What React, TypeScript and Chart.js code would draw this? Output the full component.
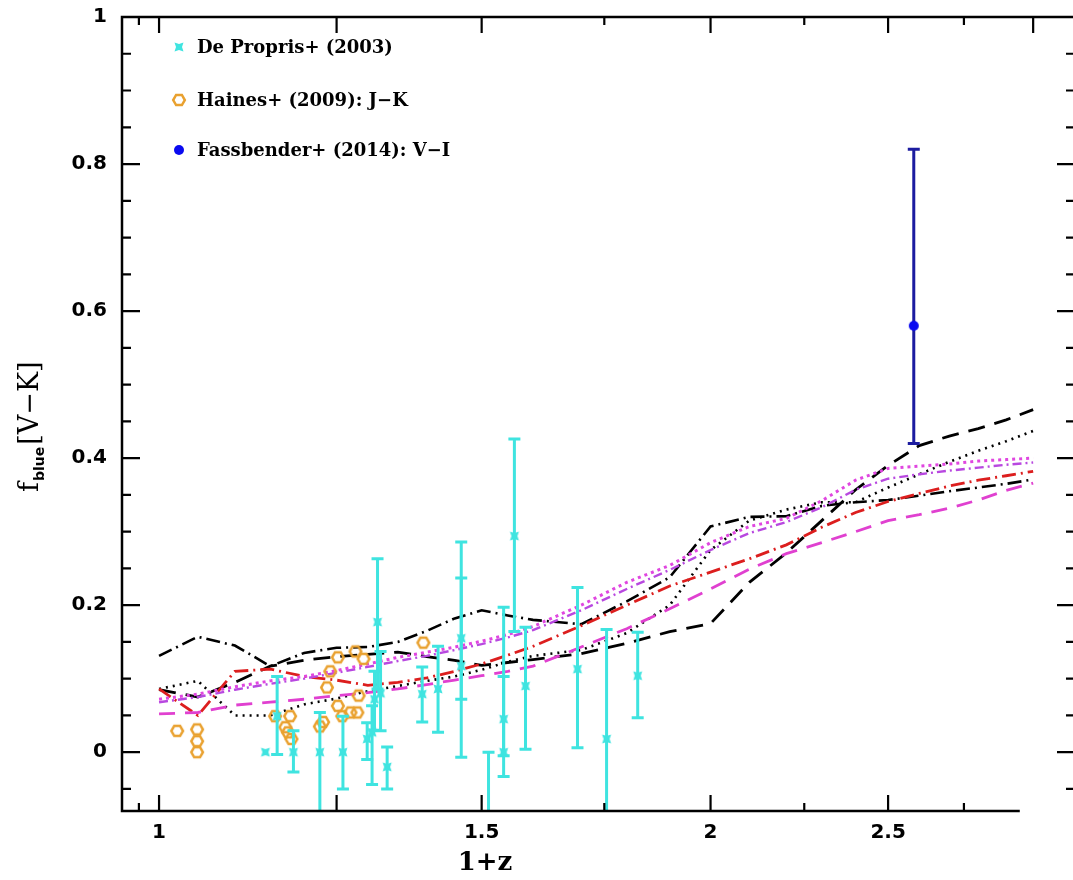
import React, { useEffect, useRef } from "react";
import { Chart, registerables } from "chart.js";

Chart.register(...registerables);

// ---------- data ----------
const MODEL_X = [1.0, 1.05, 1.1, 1.15, 1.2, 1.25, 1.3, 1.35, 1.4, 1.45, 1.5, 1.55, 1.6, 1.7, 1.8, 1.9, 2.0, 2.1, 2.2, 2.3, 2.4, 2.5, 2.6, 2.7, 2.8, 2.9, 3.0];
const BLACK_DASHDOT = [0.131, 0.157, 0.145, 0.117, 0.135, 0.142, 0.143, 0.15, 0.165, 0.182, 0.193, 0.186, 0.18, 0.174, 0.205, 0.238, 0.307, 0.32, 0.321, 0.335, 0.34, 0.343, 0.349, 0.355, 0.36, 0.365, 0.371];
const BLACK_DASHED = [0.085, 0.075, 0.095, 0.117, 0.125, 0.13, 0.133, 0.136, 0.13, 0.125, 0.118, 0.122, 0.126, 0.134, 0.148, 0.164, 0.175, 0.231, 0.271, 0.315, 0.357, 0.39, 0.417, 0.43, 0.44, 0.452, 0.466];
const BLACK_DOTTED = [0.086, 0.097, 0.05, 0.05, 0.065, 0.073, 0.083, 0.09, 0.097, 0.103, 0.112, 0.123, 0.131, 0.139, 0.162, 0.2, 0.275, 0.315, 0.33, 0.34, 0.34, 0.36, 0.378, 0.395, 0.41, 0.423, 0.437];
const RED_DASHDOT = [0.086, 0.05, 0.11, 0.113, 0.103, 0.098, 0.091, 0.095, 0.101, 0.11, 0.12, 0.132, 0.144, 0.172, 0.2, 0.226, 0.245, 0.263, 0.282, 0.306, 0.326, 0.341, 0.352, 0.362, 0.37, 0.376, 0.382];
const MAGENTA_DASHED = [0.052, 0.054, 0.064, 0.068, 0.072, 0.077, 0.081, 0.086, 0.092, 0.098, 0.104, 0.11, 0.117, 0.143, 0.168, 0.195, 0.222, 0.249, 0.27, 0.285, 0.3, 0.315, 0.323, 0.332, 0.343, 0.356, 0.366];
const MAGENTA_DOTTED = [0.072, 0.079, 0.089, 0.097, 0.103, 0.111, 0.12, 0.129, 0.136, 0.143, 0.151, 0.16, 0.171, 0.2, 0.231, 0.254, 0.285, 0.307, 0.318, 0.342, 0.37, 0.386, 0.389, 0.392, 0.396, 0.398, 0.4];
const PURPLE_DASHDOT = [0.068, 0.075, 0.085, 0.093, 0.1, 0.108, 0.116, 0.124, 0.131, 0.139, 0.147, 0.156, 0.166, 0.193, 0.222, 0.248, 0.275, 0.298, 0.313, 0.333, 0.357, 0.372, 0.378, 0.383, 0.387, 0.391, 0.394];

const DP_X = [1.143, 1.16, 1.184, 1.224, 1.26, 1.299, 1.307, 1.311, 1.316, 1.321, 1.332, 1.392, 1.42, 1.462, 1.462, 1.513, 1.542, 1.542, 1.563, 1.585, 1.692, 1.755, 1.825];
const DP_Y = [0.0, 0.049, 0.0, 0.0, 0.0, 0.018, 0.027, 0.072, 0.177, 0.08, -0.02, 0.079, 0.086, 0.155, 0.117, -0.12, 0.045, 0.0, 0.294, 0.09, 0.113, 0.018, 0.104];
const DP_LO = [0.0, -0.003, -0.027, -0.1, -0.05, -0.01, -0.044, 0.03, 0.086, 0.029, -0.05, 0.041, 0.027, 0.072, -0.007, -0.25, -0.005, -0.033, 0.164, 0.004, 0.006, -0.15, 0.047];
const DP_HI = [0.0, 0.103, 0.029, 0.054, 0.049, 0.04, 0.063, 0.11, 0.263, 0.137, 0.007, 0.116, 0.144, 0.237, 0.286, 0.0, 0.103, 0.197, 0.426, 0.17, 0.224, 0.167, 0.163];

const HA_X = [1.023, 1.049, 1.049, 1.049, 1.157, 1.172, 1.176, 1.179, 1.181, 1.224, 1.229, 1.235, 1.24, 1.252, 1.252, 1.259, 1.272, 1.28, 1.283, 1.285, 1.293, 1.394];
const HA_Y = [0.029, 0.031, 0.015, 0.0, 0.049, 0.034, 0.027, 0.049, 0.018, 0.035, 0.041, 0.088, 0.11, 0.129, 0.063, 0.049, 0.054, 0.137, 0.054, 0.077, 0.127, 0.149];

const FA_X = [2.582];
const FA_Y = [0.58];
const FA_LO = [0.42];
const FA_HI = [0.82];

const X_LABEL_TICKS = [1, 1.5, 2, 2.5];
const X_MAJOR_TICKS = [1, 1.25, 1.5, 2, 2.5, 3];
const X_MINOR_TICKS = [0.975, 1.75, 2.25, 2.75];
const Y_LABEL_TICKS = [0, 0.2, 0.4, 0.6, 0.8, 1];
const Y_MINOR_TICKS = [-0.05, 0.05, 0.1, 0.15, 0.25, 0.3, 0.35, 0.45, 0.5, 0.55, 0.65, 0.7, 0.75, 0.85, 0.9, 0.95];
const BOTTOM_AXIS_END = 2.95;

const LEGEND_LABELS = ["De Propris+ (2003)", "Haines+ (2009): J\u2212K", "Fassbender+ (2014): V\u2212I"];

// ---------- styles ----------
const CYAN = "#3fe4e0";
const ORANGE = "#e9a12f";
const BLUE = "#0a0af0";
const NAVY = "#1c1ca0";

function makeHexagon(color: string) {
  const c = document.createElement("canvas");
  c.width = 16;
  c.height = 16;
  const g = c.getContext("2d")!;
  g.strokeStyle = color;
  g.lineWidth = 2.5;
  g.beginPath();
  for (let i = 0; i < 6; i++) {
    const a = (Math.PI / 3) * i;
    const px = 8 + 5.8 * Math.cos(a);
    const py = 8 + 5.8 * Math.sin(a);
    if (i === 0) g.moveTo(px, py);
    else g.lineTo(px, py);
  }
  g.closePath();
  g.stroke();
  return c;
}

function makeNotchedSquare(color: string) {
  const c = document.createElement("canvas");
  c.width = 12;
  c.height = 12;
  const g = c.getContext("2d")!;
  g.fillStyle = color;
  g.beginPath();
  g.moveTo(1.5, 1.5);
  g.lineTo(6, 3);
  g.lineTo(10.5, 1.5);
  g.lineTo(9, 6);
  g.lineTo(10.5, 10.5);
  g.lineTo(6, 9);
  g.lineTo(1.5, 10.5);
  g.lineTo(3, 6);
  g.closePath();
  g.fill();
  return c;
}

function makeDot(color: string) {
  const c = document.createElement("canvas");
  c.width = 12;
  c.height = 12;
  const g = c.getContext("2d")!;
  g.fillStyle = color;
  g.beginPath();
  g.arc(6, 6, 5, 0, Math.PI * 2);
  g.fill();
  return c;
}

export default function App() {
  const ref = useRef<HTMLCanvasElement | null>(null);

  useEffect(() => {
    const canvas = ref.current;
    if (!canvas) return;
    const hex = makeHexagon(ORANGE);
    const sq = makeNotchedSquare(CYAN);
    const dot = makeDot(BLUE);

    const line = (ys: number[], color: string, dash: number[], width = 2.6) => ({
      data: MODEL_X.map((x, i) => ({ x, y: ys[i] })),
      showLine: true,
      borderColor: color,
      borderWidth: width,
      borderDash: dash,
      pointRadius: 0,
      fill: false,
      tension: 0,
    });

    const errorBars = [
      { index: 0, xs: FA_X, lo: FA_LO, hi: FA_HI, color: NAVY, cap: 6, width: 3 },
      { index: 1, xs: DP_X, lo: DP_LO, hi: DP_HI, color: CYAN, cap: 6, width: 3 },
    ];

    const errorPlugin = {
      id: "errorbars",
      beforeDatasetDraw(chart: any, args: any) {
        const eb = errorBars.find((e) => e.index === args.index);
        if (!eb) return;
        const { ctx, chartArea, scales } = chart;
        ctx.save();
        ctx.beginPath();
        ctx.rect(chartArea.left, chartArea.top, chartArea.right - chartArea.left, chartArea.bottom - chartArea.top);
        ctx.clip();
        ctx.strokeStyle = eb.color;
        ctx.lineWidth = eb.width;
        eb.xs.forEach((xv, i) => {
          if (eb.lo[i] === eb.hi[i]) return;
          const px = scales.x.getPixelForValue(xv);
          const p1 = scales.y.getPixelForValue(eb.lo[i]);
          const p2 = scales.y.getPixelForValue(eb.hi[i]);
          ctx.beginPath();
          ctx.moveTo(px, p1);
          ctx.lineTo(px, p2);
          ctx.moveTo(px - eb.cap, p1);
          ctx.lineTo(px + eb.cap, p1);
          ctx.moveTo(px - eb.cap, p2);
          ctx.lineTo(px + eb.cap, p2);
          ctx.stroke();
        });
        ctx.restore();
      },
    };

    const framePlugin = {
      id: "frame",
      afterDraw(chart: any) {
        const { ctx, chartArea, scales } = chart;
        const { left, right, top, bottom } = chartArea;
        const xs = scales.x;
        const ys = scales.y;
        ctx.save();
        ctx.strokeStyle = "#000";
        ctx.lineWidth = 2.5;
        ctx.lineCap = "butt";
        const bEnd = xs.getPixelForValue(BOTTOM_AXIS_END);
        ctx.beginPath();
        ctx.moveTo(left, top);
        ctx.lineTo(right, top);
        ctx.lineTo(right, bottom);
        ctx.moveTo(left, top - 1.2);
        ctx.lineTo(left, bottom + 1.2);
        ctx.moveTo(left, bottom);
        ctx.lineTo(bEnd, bottom);
        ctx.stroke();
        ctx.lineWidth = 2.2;
        ctx.beginPath();
        const xt = (v: number, len: number) => {
          const px = xs.getPixelForValue(v);
          ctx.moveTo(px, top);
          ctx.lineTo(px, top + len);
          if (v <= BOTTOM_AXIS_END) {
            ctx.moveTo(px, bottom);
            ctx.lineTo(px, bottom - len);
          }
        };
        X_MAJOR_TICKS.forEach((v) => xt(v, 16));
        X_MINOR_TICKS.forEach((v) => xt(v, 8));
        const yt = (v: number, len: number) => {
          const py = ys.getPixelForValue(v);
          ctx.moveTo(left, py);
          ctx.lineTo(left + len, py);
          ctx.moveTo(right, py);
          ctx.lineTo(right - len, py);
        };
        Y_LABEL_TICKS.forEach((v) => yt(v, 18));
        Y_MINOR_TICKS.forEach((v) => yt(v, 9));
        ctx.stroke();

        // axis titles
        ctx.fillStyle = "#000";
        ctx.textBaseline = "alphabetic";
        ctx.font = 'bold 26px "DejaVu Serif", serif';
        ctx.textAlign = "center";
        ctx.fillText("1+z", 485, 870);

        ctx.save();
        ctx.translate(38, 492);
        ctx.rotate(-Math.PI / 2);
        ctx.textAlign = "left";
        ctx.font = '27px "DejaVu Serif", serif';
        ctx.fillText("f", 0, 0);
        let w = ctx.measureText("f").width + 1;
        ctx.font = 'bold 14px "DejaVu Sans", sans-serif';
        ctx.fillText("blue", w, 6);
        w += ctx.measureText("blue").width + 2;
        ctx.font = '27px "DejaVu Serif", serif';
        ctx.fillText("[V\u2212K]", w, 0);
        ctx.restore();

        // legend
        const markers = [sq, hex, dot];
        const ly = [47, 100, 150];
        ctx.textAlign = "left";
        ctx.textBaseline = "middle";
        ctx.font = 'bold 18px "DejaVu Serif", serif';
        LEGEND_LABELS.forEach((t, i) => {
          const m = markers[i];
          ctx.drawImage(m, 179 - m.width / 2, ly[i] - m.height / 2);
          ctx.fillText(t, 197, ly[i] + 1);
        });
        ctx.restore();
      },
    };

    const tickFont = { family: '"DejaVu Sans", sans-serif', size: 20, weight: "bold" as const };

    const chart = new Chart(canvas, {
      type: "scatter",
      data: {
        datasets: [
          {
            data: FA_X.map((x, i) => ({ x, y: FA_Y[i] })),
            pointStyle: dot,
            pointRadius: 5,
            backgroundColor: BLUE,
            borderColor: BLUE,
          },
          {
            data: DP_X.map((x, i) => ({ x, y: DP_Y[i] })),
            pointStyle: sq,
            pointRadius: 5,
            backgroundColor: CYAN,
            borderColor: CYAN,
          },
          {
            data: HA_X.map((x, i) => ({ x, y: HA_Y[i] })),
            pointStyle: hex,
            pointRadius: 6,
            backgroundColor: ORANGE,
            borderColor: ORANGE,
          },
          line(MAGENTA_DOTTED, "#e046e0", [3, 4], 3),
          line(PURPLE_DASHDOT, "#b848e0", [9, 4, 2, 4], 2.4),
          line(MAGENTA_DASHED, "#e040d0", [16, 10], 2.8),
          line(RED_DASHDOT, "#dc1e1e", [14, 5, 2, 5], 2.8),
          line(BLACK_DOTTED, "#000000", [2, 5], 2.6),
          line(BLACK_DASHED, "#000000", [17, 10], 2.8),
          line(BLACK_DASHDOT, "#000000", [14, 5, 2, 5], 2.6),
        ] as any,
      },
      options: {
        animation: false,
        responsive: false,
        devicePixelRatio: 1,
        layout: { padding: { top: 17, right: 15, bottom: 0, left: 0 } },
        plugins: { legend: { display: false }, tooltip: { enabled: false } },
        scales: {
          x: {
            type: "logarithmic",
            min: 0.9545,
            max: 3.162,
            afterBuildTicks: (s: any) => {
              s.ticks = X_LABEL_TICKS.map((v) => ({ value: v }));
            },
            afterFit: (s: any) => {
              s.height = 69;
              s.paddingLeft = 0;
              s.paddingRight = 0;
            },
            grid: { display: false, drawTicks: false },
            border: { display: false },
            ticks: {
              callback: (v: any) => String(v),
              font: tickFont,
              color: "#000",
              padding: 10,
              maxRotation: 0,
              autoSkip: false,
            },
          },
          y: {
            type: "linear",
            min: -0.08,
            max: 1,
            afterBuildTicks: (s: any) => {
              s.ticks = Y_LABEL_TICKS.map((v) => ({ value: v }));
            },
            afterFit: (s: any) => {
              s.width = 122;
              s.paddingTop = 0;
              s.paddingBottom = 0;
            },
            grid: { display: false, drawTicks: false },
            border: { display: false },
            ticks: {
              callback: (v: any) => String(v),
              font: tickFont,
              color: "#000",
              padding: 15,
              autoSkip: false,
            },
          },
        },
      } as any,
      plugins: [errorPlugin, framePlugin],
    });

    return () => chart.destroy();
  }, []);

  return (
    <div
      style={{
        position: "fixed",
        left: 0,
        top: 0,
        width: 1073,
        height: 880,
        overflow: "hidden",
        background: "#fff",
      }}
    >
      <canvas ref={ref} width={1090} height={880} style={{ display: "block" }} />
    </div>
  );
}
